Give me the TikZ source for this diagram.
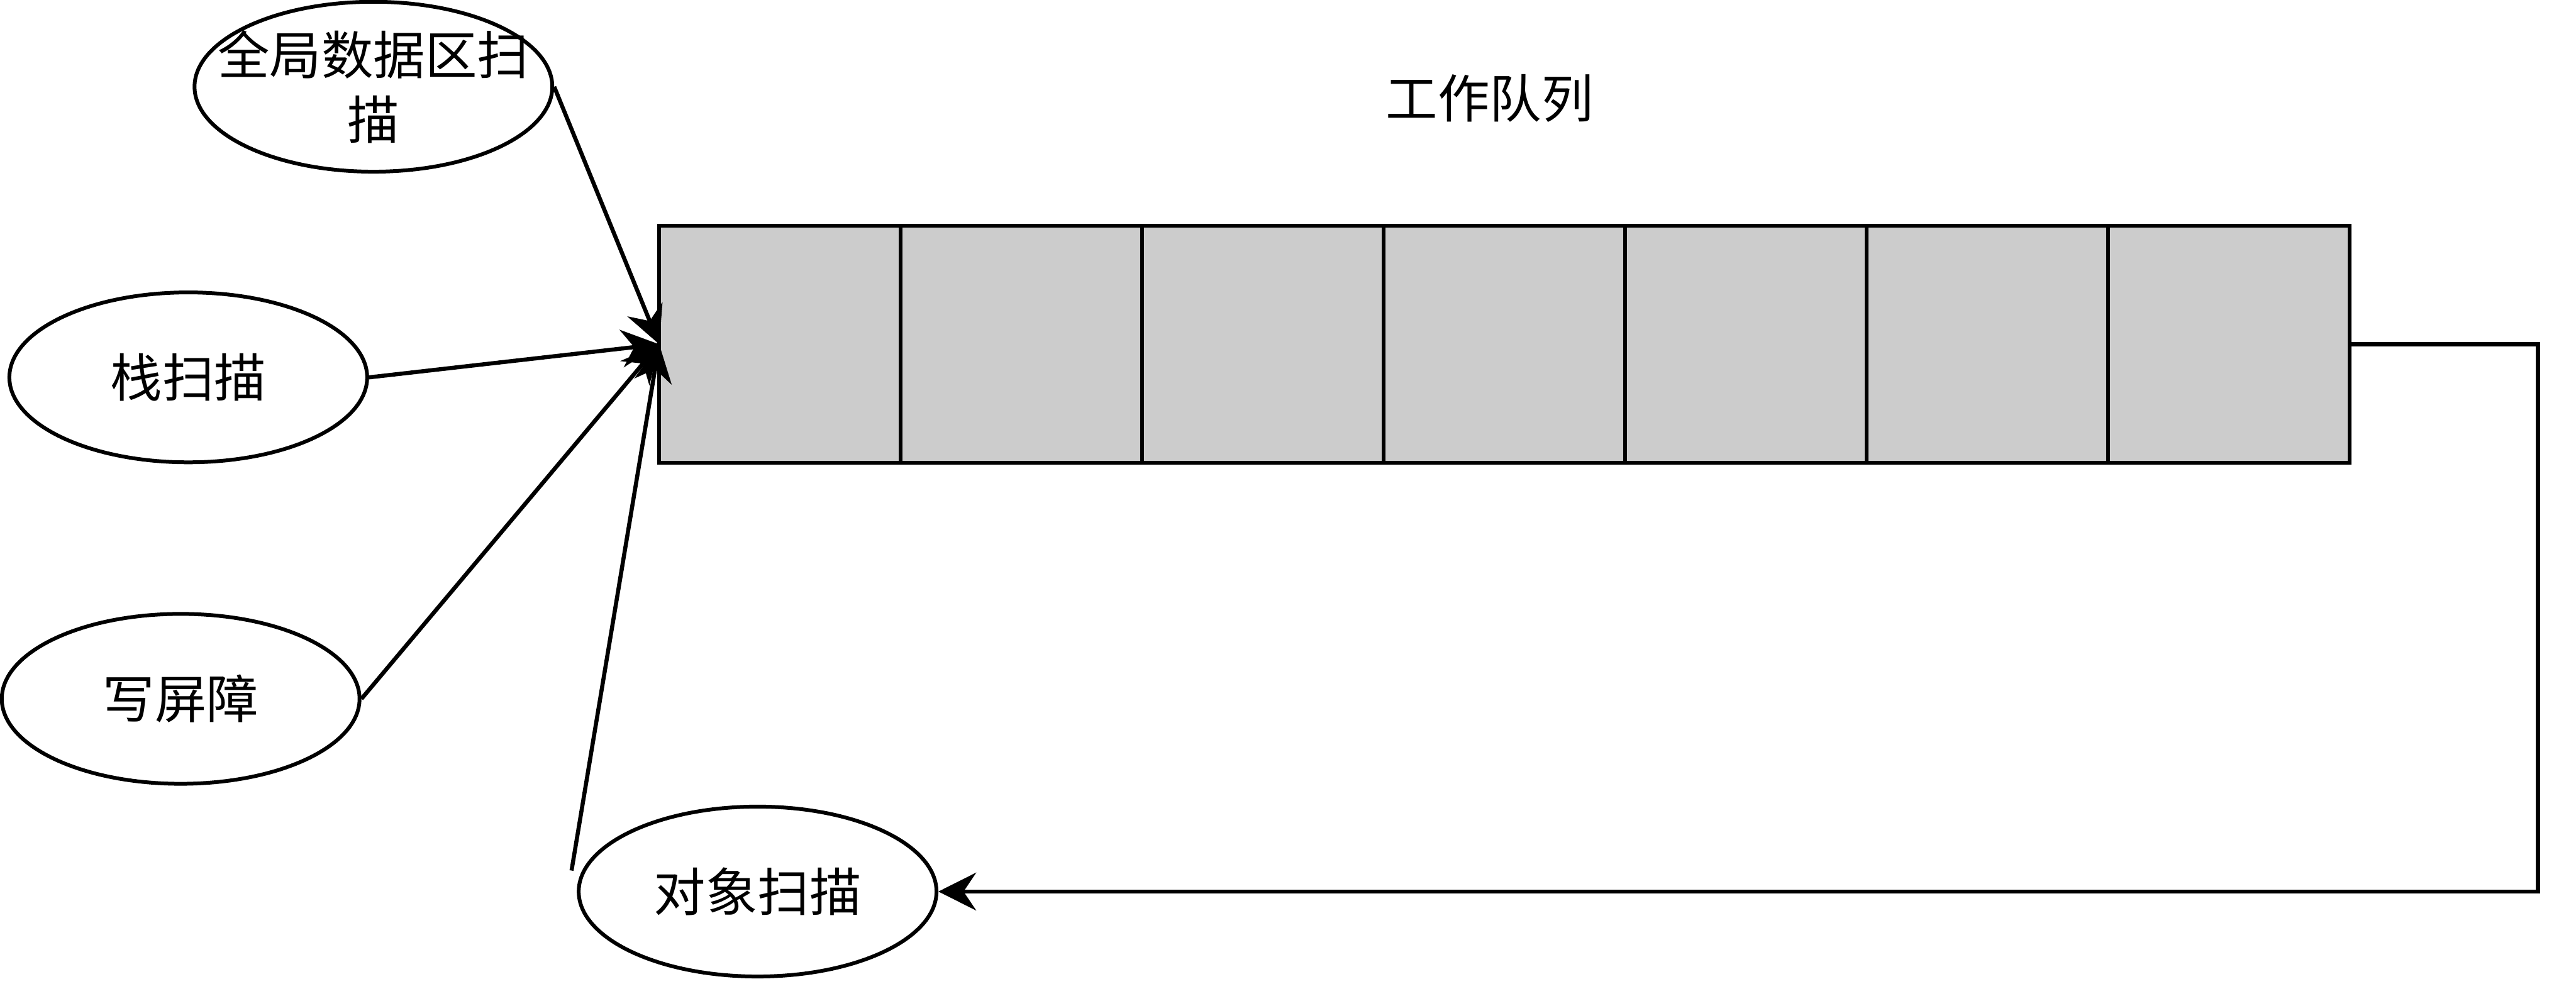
\documentclass[tikz,border=0pt]{standalone}
\usepackage{fontspec}
\newfontfamily\cjk{Noto Sans CJK SC}
\usetikzlibrary{shapes.geometric,arrows.meta}
\begin{document}
\begin{tikzpicture}[
  every node/.style={font=\cjk\fontsize{33}{41}\selectfont},
  cell/.style={draw, line width=2.6pt, fill=black!20, minimum width=5.4cm, minimum height=5.3cm, inner sep=0pt, outer sep=0pt, anchor=north west},
  oval/.style={draw, ellipse, line width=2.4pt, minimum width=8.0cm, minimum height=3.8cm, inner sep=0pt, align=center},
  conn/.style={line width=2.6pt, -{Stealth[length=24pt,width=24pt,inset=8pt]}}
]
\useasboundingbox (0,0) rectangle (57.6,-22);
\foreach \i in {1,...,7} {
  \node[cell] (c\i) at ({14.74+5.4*(\i-1)},-5.05) {};
}
\node (title) at (33.31,-2.20) {工作队列};
\node[oval] (glob) at (8.35,-1.94) {};
\node[align=center, inner sep=0pt] (globtext) at (glob.center) {全局数据区扫\\描};
\node[oval] (stack) at (4.21,-8.44) {栈扫描};
\node[oval] (wb) at (4.04,-15.63) {写屏障};
\node[oval] (obj) at (16.94,-19.94) {对象扫描};
\coordinate (objstart) at (12.78,-19.47);
\coordinate (tx) at (56.75,0);
\draw[conn] (glob.east) -- (c1.west);
\draw[conn] (stack.east) -- (c1.west);
\draw[conn] (wb.east) -- (c1.west);
\draw[conn] (objstart) -- (c1.west);
\draw[conn] (c7.east) -- (c7.east -| tx) |- (obj.east);
\end{tikzpicture}
\end{document}
